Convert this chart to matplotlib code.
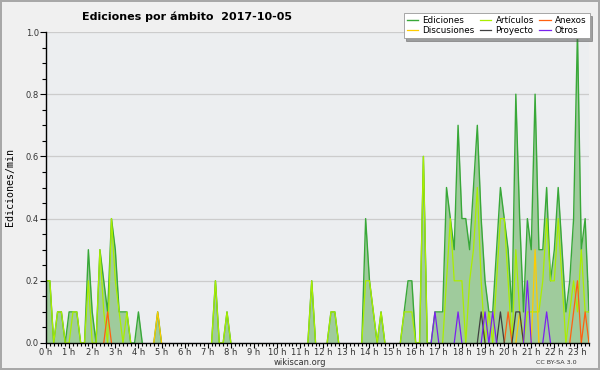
import matplotlib
matplotlib.use("Agg")
import matplotlib.pyplot as plt
import numpy as np
from matplotlib.ticker import MultipleLocator, FixedLocator

# ediciones por minuto, una muestra cada 10 minutos (6 por hora)
ediciones = [
    0.2, 0.2, 0, 0.1, 0.1, 0,        # 0 h
    0.1, 0.1, 0.1, 0, 0, 0.3,        # 1 h
    0.1, 0, 0.3, 0.2, 0.1, 0.4,      # 2 h
    0.3, 0.1, 0.1, 0.1, 0, 0,        # 3 h
    0.1, 0, 0, 0, 0, 0.1,            # 4 h
    0, 0, 0, 0, 0, 0,                # 5 h
    0, 0, 0, 0, 0, 0,                # 6 h
    0, 0, 0.2, 0, 0, 0.1,            # 7 h
    0, 0, 0, 0, 0, 0,                # 8 h
    0, 0, 0, 0, 0, 0,                # 9 h
    0, 0, 0, 0, 0, 0,                # 10 h
    0, 0, 0, 0.2, 0, 0,              # 11 h
    0, 0, 0.1, 0.1, 0, 0,            # 12 h
    0, 0, 0, 0, 0, 0.4,              # 13 h
    0.2, 0.1, 0, 0.1, 0, 0,          # 14 h
    0, 0, 0, 0.1, 0.2, 0.2,          # 15 h
    0, 0, 0.6, 0, 0, 0.1,            # 16 h
    0.1, 0.1, 0.5, 0.4, 0.3, 0.7,    # 17 h
    0.4, 0.4, 0.3, 0.5, 0.7, 0.4,    # 18 h
    0.2, 0.1, 0.1, 0.3, 0.5, 0.4,    # 19 h
    0.3, 0.1, 0.8, 0.4, 0.1, 0.4,    # 20 h
    0.3, 0.8, 0.3, 0.3, 0.5, 0.2,    # 21 h
    0.3, 0.5, 0.3, 0.1, 0.2, 0.4,    # 22 h
    1.0, 0.3, 0.4, 0.1,              # 23 h
]

articulos = [
    0.2, 0.2, 0, 0.1, 0.1, 0,
    0, 0.1, 0.1, 0, 0, 0.2,
    0, 0, 0.3, 0.1, 0, 0.4,
    0.2, 0.1, 0, 0.1, 0, 0,
    0, 0, 0, 0, 0, 0,
    0, 0, 0, 0, 0, 0,
    0, 0, 0, 0, 0, 0,
    0, 0, 0.2, 0, 0, 0.1,
    0, 0, 0, 0, 0, 0,
    0, 0, 0, 0, 0, 0,
    0, 0, 0, 0, 0, 0,
    0, 0, 0, 0.2, 0, 0,
    0, 0, 0.1, 0.1, 0, 0,
    0, 0, 0, 0, 0, 0.2,
    0.2, 0.1, 0, 0.1, 0, 0,
    0, 0, 0, 0.1, 0.1, 0.1,
    0, 0, 0.6, 0, 0, 0,
    0, 0, 0.2, 0.4, 0.2, 0.2,
    0.2, 0, 0.2, 0.3, 0.5, 0.2,
    0, 0.1, 0, 0.2, 0.4, 0.4,
    0.2, 0, 0.3, 0.1, 0, 0.1,
    0.1, 0.1, 0.1, 0.2, 0.4, 0.2,
    0.2, 0.4, 0.2, 0, 0.1, 0.2,
    0.1, 0.3, 0.1, 0.1,
]

# series casi vacias: {muestra: valor}
discusiones_pts = {29: 0.1, 123: 0.1, 127: 0.3}
anexos_pts = {16: 0.1, 120: 0.1, 137: 0.1, 138: 0.2, 140: 0.1}
proyecto_pts = {113: 0.1, 118: 0.1, 122: 0.1, 123: 0.1}
otros_pts = {101: 0.1, 107: 0.1, 114: 0.1, 116: 0.1, 125: 0.2, 130: 0.1}

n = len(ediciones)
horas = np.arange(n) / 6.0


def serie(pts):
    s = np.zeros(n)
    for k, v in pts.items():
        s[k] = v
    return s


def sin_ceros(s):
    # oculta los tramos planos en cero (quedan tapados por el eje en el original)
    s = np.asarray(s, dtype=float)
    nz = s > 0
    keep = nz.copy()
    keep[1:] |= nz[:-1]
    keep[:-1] |= nz[1:]
    return np.where(keep, s, np.nan)


discusiones = serie(discusiones_pts)
anexos = serie(anexos_pts)
proyecto = serie(proyecto_pts)
otros = serie(otros_pts)

fig = plt.figure(figsize=(6, 3.7), dpi=100, facecolor='#f0f0f0',
                 edgecolor='#a8a8a8', linewidth=1.5)
ax = fig.add_axes([46/600, 1-343/370, (589-46)/600, (343-32)/370])
ax.set_facecolor('#eceef0')

ax.fill_between(horas, ediciones, 0, color='#9fcb9c', lw=0, zorder=2)
l1, = ax.plot(horas, sin_ceros(ediciones), color='#38a838', lw=1.0, zorder=4)
l2, = ax.plot(horas, sin_ceros(articulos), color='#aaee00', lw=0.9, zorder=5)
l4, = ax.plot(horas, sin_ceros(discusiones), color='#ffcc00', lw=0.9, zorder=6)
l3, = ax.plot(horas, sin_ceros(anexos), color='#ff6010', lw=0.9, zorder=6)
l5, = ax.plot(horas, sin_ceros(proyecto), color='#404040', lw=0.9, zorder=6)
l6, = ax.plot(horas, sin_ceros(otros), color='#7a22ee', lw=0.9, zorder=6)

ax.set_xlim(0, horas[-1])
ax.set_ylim(0, 1.0)
ax.yaxis.set_minor_locator(MultipleLocator(0.05))
ax.xaxis.set_major_locator(FixedLocator(range(24)))
ax.xaxis.set_minor_locator(MultipleLocator(1/6))
ax.set_xticklabels(['%d h' % h for h in range(24)])
ax.set_yticks(np.arange(0, 1.01, 0.2))
ax.set_yticklabels(['%.1f' % v for v in np.arange(0, 1.01, 0.2)])
ax.tick_params(axis='both', which='major', labelsize=6.0, colors='black',
               labelcolor='#333333', width=0.8)
ax.tick_params(axis='x', which='major', length=3.5, pad=0.3)
ax.tick_params(axis='x', which='minor', length=2.5, width=0.8)
ax.tick_params(axis='y', which='major', length=4, pad=1)
ax.tick_params(axis='y', which='minor', length=3, width=0.8)
ax.grid(axis='y', which='major', color='#cccccc', lw=0.9, zorder=1)
ax.set_axisbelow(True)
for s in ['top', 'right']:
    ax.spines[s].set_visible(False)
for s in ['left', 'bottom']:
    ax.spines[s].set_linewidth(1.0)
    ax.spines[s].set_zorder(7)

fig.text(187/600, 1-17/370, 'Ediciones por ámbito  2017-10-05',
         ha='center', va='center', fontsize=8.0, fontweight='bold')
fig.text(10/600, 1-187/370, 'Ediciones/min', family='DejaVu Sans Mono',
         rotation=90, ha='center', va='center', fontsize=7.2)
fig.text(300/600, 1-362.5/370, 'wikiscan.org', ha='center', va='center',
         fontsize=6.0, color='#333333')
fig.text(556/600, 1-362.5/370, 'CC BY-SA 3.0', ha='center', va='center',
         fontsize=4.6, color='#333333')

leg = fig.legend([l1, l4, l2, l5, l3, l6],
                 ['Ediciones', 'Discusiones', 'Artículos', 'Proyecto',
                  'Anexos', 'Otros'],
                 ncol=3, loc='upper right', bbox_to_anchor=(594/600, 1-9/370),
                 fontsize=6.3, handlelength=1.3, handletextpad=0.5,
                 columnspacing=0.6, labelspacing=0.1, borderpad=0.35,
                 fancybox=False, shadow=True, framealpha=1,
                 edgecolor='#999999')
leg.get_frame().set_linewidth(0.6)

fig.savefig('out.png', dpi=100, facecolor=fig.get_facecolor())
